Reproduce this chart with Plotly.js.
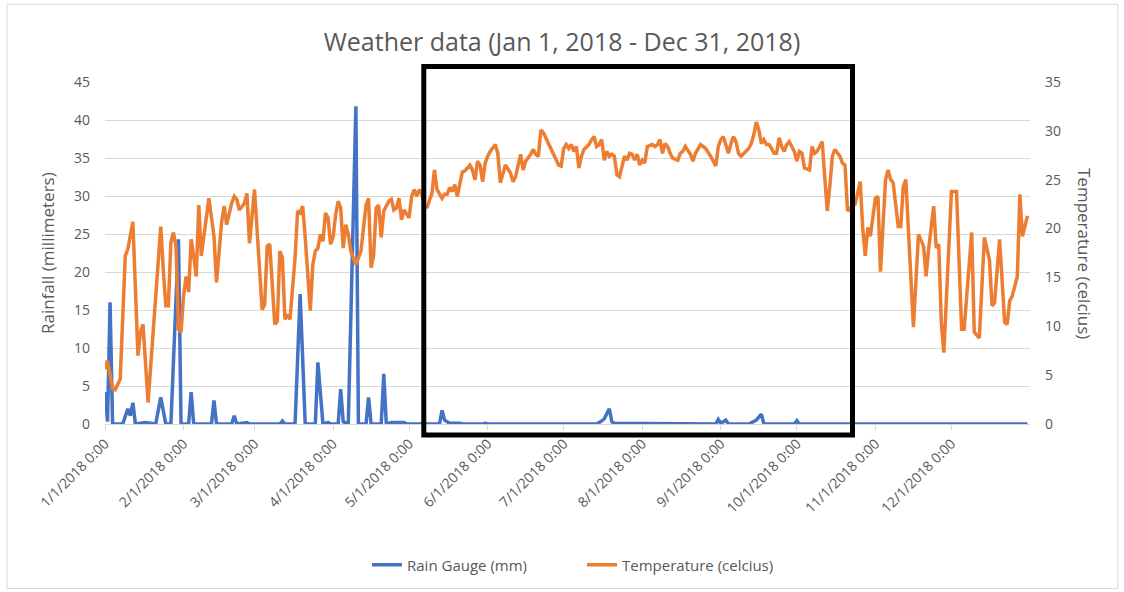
<!DOCTYPE html>
<html>
<head>
<meta charset="utf-8">
<script src="https://cdn.plot.ly/plotly-3.0.1.min.js"></script>
<style>
  html, body { margin: 0; padding: 0; background: #ffffff; }
  #chart { width: 1124px; height: 592px; }
</style>
</head>
<body>
<div id="chart"></div>
<script>
// ---- Data ----
// Day offsets from Jan 1, 2018
var tempDays = [
  0,1,3,4,6,8,9,11,13,14,
  15,17,19,21,22,23,24,25,26,27,
  28,29,30,31,32,33,34,35,36,37,
  38,39,41,43,44,46,47,48,50,51,
  52,53,55,56,57,59,62,63,64,65,
  67,68,69,70,71,72,73,75,76,77,
  78,79,80,81,82,83,84,85,86,87,
  88,89,90,91,92,93,94,95,96,97,
  99,101,103,104,105,106,107,108,109,110,
  112,113,114,115,116,117,118,120,121,122,
  123,124,125,126,127,129,130,131,133,134,
  135,136,137,138,139,141,142,144,145,146,
  147,148,149,150,151,152,154,155,156,157,
  158,160,161,162,163,164,165,166,168,169,
  170,171,172,173,175,176,177,179,180,181,
  182,183,184,185,186,187,188,189,191,192,
  193,194,195,196,197,198,199,200,201,202,
  203,204,205,206,207,208,209,210,211,212,
  213,214,216,217,218,219,220,221,222,223,
  224,226,227,228,229,231,232,233,235,236,
  237,239,240,241,242,243,244,245,246,247,
  248,249,250,251,252,254,255,256,257,258,
  259,260,261,262,263,264,265,266,267,268,
  269,270,271,272,273,274,275,276,278,279,
  280,281,282,283,284,285,286,287,288,290,
  291,292,293,296,298,299,300,301,302,304,
  305,306,308,309,310,311,313,314,315,316,
  319,321,323,324,325,327,328,329,330,331,
  334,336,338,339,342,343,345,347,349,350,
  351,353,355,356,357,358,360,361,362,364
];
var tempC = [
  5.6,6.5,3.6,3.5,4.6,17.2,17.9,20.7,7.0,9.4,
  10.2,2.2,9.4,16.8,20.2,15.8,12.1,12.1,18.6,19.6,
  18.2,9.7,9.4,13.1,15.1,13.5,18.9,17.2,15.1,22.4,
  17.2,19.2,23.1,19.2,14.5,20.6,22.3,20.4,22.6,23.3,
  23.0,21.9,22.6,23.6,18.5,24.0,11.7,12.2,18.2,18.4,
  10.2,10.5,17.7,17.0,10.7,11.2,10.7,17.0,21.8,21.6,
  22.3,19.1,14.6,11.6,16.3,17.7,18.0,19.4,18.7,21.6,
  21.1,18.4,19.1,21.4,22.8,22.1,18.0,20.4,19.4,17.7,
  16.3,17.7,22.4,23.1,16.0,17.3,22.1,22.4,19.1,21.8,
  22.8,23.0,21.9,22.1,23.1,20.9,21.9,21.1,23.3,24.0,
  23.3,24.0,23.5,22.5,22.1,23.6,26.0,24.0,23.1,23.5,
  23.5,24.2,23.8,24.5,23.3,25.8,25.9,26.5,26.0,25.0,
  26.9,26.5,24.8,26.7,27.4,27.9,28.6,27.7,24.7,25.5,
  26.5,25.7,24.8,25.3,26.4,27.6,26.0,26.9,27.6,28.1,
  27.6,27.4,30.1,29.8,28.7,28.1,27.7,26.5,26.4,28.2,
  28.6,28.2,28.6,27.9,28.4,26.2,27.4,28.1,28.6,29.1,
  29.4,28.4,28.6,29.1,27.0,27.9,27.4,27.6,27.4,25.5,
  25.3,26.5,27.4,27.0,27.7,27.6,27.0,27.6,26.5,27.0,
  26.7,28.4,28.6,28.4,28.6,29.1,27.7,28.7,28.4,27.7,
  27.2,27.0,27.7,27.9,28.4,27.6,26.9,27.7,28.6,28.4,
  28.2,27.4,26.9,26.4,28.4,29.1,29.4,28.6,27.7,28.7,
  29.4,28.9,27.7,27.4,27.7,28.2,28.7,29.6,30.9,30.1,
  28.7,29.1,28.6,28.6,28.2,27.7,27.7,29.3,28.4,27.9,
  28.6,28.9,28.4,27.9,26.9,27.9,27.7,26.2,26.0,28.4,
  27.7,27.9,28.4,28.9,25.3,21.8,24.3,27.4,28.1,27.4,
  26.7,26.5,21.8,22.5,24.8,20.0,17.2,20.1,19.2,23.1,
  23.3,15.6,25.0,26.0,25.0,24.7,20.2,20.2,24.3,25.0,
  9.9,19.4,18.2,15.1,17.9,22.3,18.0,18.4,10.4,7.3,
  23.8,23.8,9.7,9.7,19.6,9.4,8.8,19.1,16.8,12.1,
  12.4,18.9,10.4,10.2,12.6,13.1,15.1,23.5,19.2,21.3
];
var rainDays = [
  0,1,2,3,7,9,10,11,12,16,
  20,22,24,26,29,30,33,34,35,42,
  43,44,50,51,52,56,57,69,70,71,
  75,77,79,83,84,86,88,89,92,93,
  94,96,99,100,103,104,105,109,110,111,
  113,116,118,119,132,133,134,135,136,140,
  141,149,150,151,194,196,197,199,200,201,
  207,208,226,227,229,241,242,243,245,246,
  254,255,257,259,260,272,273,274,364
];
var rainMm = [
  4.2,0.3,16.0,0,0,2.0,1.1,2.8,0,0.2,
  0,3.5,0,0,24.3,0,0,4.2,0,0,
  3.1,0,0,1.1,0,0.2,0,0,0.4,0,
  0,17.1,0,0,8.1,0,0.2,0,0,4.6,
  0.3,0,41.8,0,0,3.5,0,0,6.6,0,
  0.2,0.2,0.2,0,0,1.8,0.5,0.3,0.1,0.1,
  0,0,0.1,0,0,0.4,0.7,2.0,0.3,0.1,
  0.1,0,0,0.1,0,0,0.6,0.1,0.5,0,
  0,0.2,0.5,1.3,0,0,0.45,0,0
];
var monthTicks = ['2018-01-01','2018-02-01','2018-03-01','2018-04-01','2018-05-01','2018-06-01',
                  '2018-07-01','2018-08-01','2018-09-01','2018-10-01','2018-11-01','2018-12-01'];
var tickLabels = ['1/1/2018 0:00','2/1/2018 0:00','3/1/2018 0:00','4/1/2018 0:00','5/1/2018 0:00','6/1/2018 0:00',
                  '7/1/2018 0:00','8/1/2018 0:00','9/1/2018 0:00','10/1/2018 0:00','11/1/2018 0:00','12/1/2018 0:00'];
var seriesNames = ['Rain Gauge (mm)', 'Temperature (celcius)'];
var chartTitle = 'Weather data (Jan 1, 2018 - Dec 31, 2018)';
var leftTitle = 'Rainfall (millimeters)';
var rightTitle = 'Temperature (celcius)';

function toDate(d) {
  return new Date(Date.UTC(2018, 0, 1) + d * 86400000).toISOString().slice(0, 10);
}

var FONT = 'Open Sans, Noto Sans, sans-serif';
var GRAY = '#595959';
var L = 105, W = 925, T = 82, H = 343;   // plot area in px
function px(x) { return (x - L) / W; }
function py(y) { return (T + H - y) / H; }

var traces = [
  {
    x: rainDays.map(toDate), y: rainMm, name: seriesNames[0],
    type: 'scatter', mode: 'lines', yaxis: 'y', legend: 'legend',
    line: { color: '#4472C4', width: 3.5 }
  },
  {
    x: tempDays.map(toDate), y: tempC, name: seriesNames[1],
    type: 'scatter', mode: 'lines', yaxis: 'y2', legend: 'legend2',
    line: { color: '#ED7D31', width: 3.5 }
  }
];

var legendBase = {
  orientation: 'h', xanchor: 'left', yanchor: 'middle',
  font: { family: FONT, size: 15, color: GRAY },
  bgcolor: 'rgba(0,0,0,0)', borderwidth: 0
};

var layout = {
  width: 1124, height: 592,
  paper_bgcolor: '#ffffff', plot_bgcolor: '#ffffff',
  margin: { l: L, r: 1124 - L - W, t: T, b: 592 - T - H, pad: 0 },
  font: { family: FONT, color: GRAY, size: 14 },
  showlegend: true,
  title: {
    text: chartTitle, x: 0.5, xref: 'container', xanchor: 'center',
    y: 1 - 42 / 592, yref: 'container', yanchor: 'middle',
    font: { family: FONT, size: 25, color: GRAY }
  },
  xaxis: {
    type: 'date', range: ['2018-01-01', '2019-01-01'],
    tickmode: 'array', tickvals: monthTicks, ticktext: tickLabels,
    tickangle: -45, ticks: 'outside', ticklen: 5, tickcolor: '#D9D9D9',
    showline: true, linecolor: '#D9D9D9', linewidth: 1,
    showgrid: false, zeroline: false,
    tickfont: { family: FONT, size: 14, color: GRAY },
    automargin: false, fixedrange: true
  },
  yaxis: {
    range: [0, 45], dtick: 5, tick0: 0,
    showgrid: true, gridcolor: '#D9D9D9', gridwidth: 1,
    zeroline: false, showline: false, ticks: '',
    ticklabelstandoff: 14,
    tickfont: { family: FONT, size: 14, color: GRAY },
    automargin: false, fixedrange: true
  },
  yaxis2: {
    range: [0, 35], dtick: 5, tick0: 0,
    overlaying: 'y', side: 'right',
    showgrid: false, zeroline: false, showline: false, ticks: '',
    ticklabelstandoff: 14,
    tickfont: { family: FONT, size: 14, color: GRAY },
    automargin: false, fixedrange: true
  },
  legend: Object.assign({}, legendBase, { x: px(367), y: py(565) }),
  legend2: Object.assign({}, legendBase, { x: px(582), y: py(565) }),
  annotations: [
    {
      text: leftTitle, xref: 'paper', yref: 'paper',
      x: px(47), y: 0.5, xanchor: 'center', yanchor: 'middle',
      textangle: -90, showarrow: false,
      font: { family: FONT, size: 17, color: GRAY }
    },
    {
      text: rightTitle, xref: 'paper', yref: 'paper',
      x: px(1085), y: 0.5, xanchor: 'center', yanchor: 'middle',
      textangle: 90, showarrow: false,
      font: { family: FONT, size: 17, color: GRAY }
    }
  ],
  shapes: [
    {
      type: 'rect', xref: 'paper', yref: 'paper', layer: 'below',
      x0: px(7), x1: px(1118), y0: py(590), y1: py(4),
      line: { color: '#D9D9D9', width: 1 }, fillcolor: 'rgba(0,0,0,0)'
    },
    {
      type: 'rect', xref: 'paper', yref: 'paper', layer: 'above',
      x0: px(423.8), x1: px(852.5), y0: py(436), y1: py(66.5),
      line: { color: '#000000', width: 5 }, fillcolor: 'rgba(0,0,0,0)'
    }
  ]
};

Plotly.newPlot('chart', traces, layout, { staticPlot: true, displayModeBar: false });
</script>
</body>
</html>
